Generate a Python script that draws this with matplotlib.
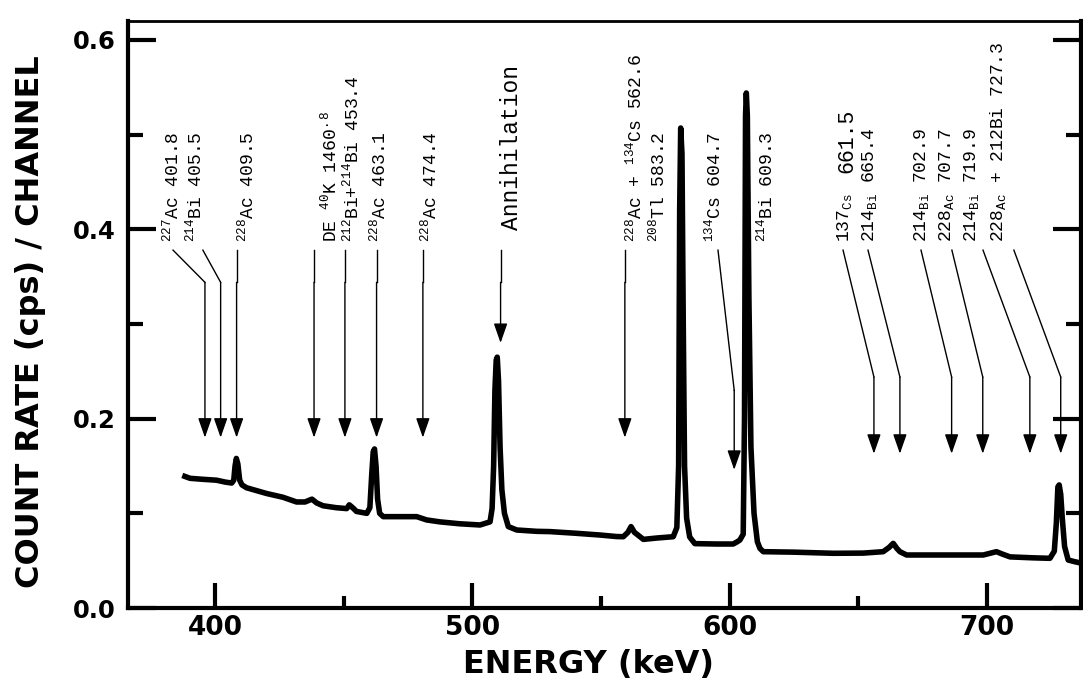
import matplotlib.pyplot as plt
from matplotlib.ticker import MultipleLocator

plt.rcParams["mathtext.fontset"] = "custom"
plt.rcParams["mathtext.rm"] = "Liberation Mono"
plt.rcParams["mathtext.it"] = "Liberation Mono"
plt.rcParams["mathtext.bf"] = "Liberation Mono:bold"

# Spectrum (keV, cps per channel).
energy = [
    388.3, 390.3, 395.0, 400.6, 404.0, 406.5, 407.3, 407.8, 408.3, 408.9,
    409.6, 410.5, 412.3, 420.0, 426.4, 431.7, 435.0, 437.7, 439.5, 442.0,
    447.0, 451.2, 452.2, 453.5, 455.0, 459.0, 460.2, 460.9, 461.5, 462.0,
    462.6, 463.2, 464.0, 465.4, 472.0, 478.4, 482.3, 487.4, 495.0, 503.0,
    506.9, 507.7, 508.3, 508.8, 509.3, 509.7, 510.2, 510.8, 511.5, 512.5,
    514.0, 517.3, 525.0, 530.2, 540.0, 549.6, 556.0, 558.7, 560.5, 561.7,
    563.0, 566.5, 572.0, 578.1, 579.5, 580.2, 580.6, 581.0, 581.5, 582.0,
    582.5, 583.3, 584.5, 586.5, 595.0, 601.4, 603.0, 604.0, 605.3, 605.8,
    606.2, 606.5, 606.9, 607.5, 608.3, 609.5, 610.8, 611.8, 613.1, 625.0,
    640.3, 652.0, 659.7, 662.0, 663.6, 665.0, 666.2, 668.8, 680.0, 698.6,
    701.5, 703.7, 706.0, 709.0, 718.0, 724.5, 726.2, 727.0, 727.6, 728.1,
    728.7, 729.3, 730.2, 731.6, 734.0, 737.4,
]
count_rate = [
    0.139, 0.137, 0.136, 0.135, 0.133, 0.132, 0.135, 0.150, 0.158, 0.152,
    0.135, 0.130, 0.127, 0.121, 0.117, 0.112, 0.112, 0.115, 0.111, 0.108,
    0.106, 0.105, 0.109, 0.106, 0.102, 0.100, 0.106, 0.140, 0.165, 0.168,
    0.150, 0.115, 0.100, 0.0965, 0.0965, 0.0965, 0.093, 0.091, 0.089, 0.0877,
    0.091, 0.105, 0.150, 0.230, 0.262, 0.265, 0.240, 0.170, 0.125, 0.100,
    0.086, 0.0824, 0.081, 0.0807, 0.079, 0.0771, 0.0755, 0.0753, 0.080, 0.086,
    0.080, 0.0725, 0.074, 0.0753, 0.085, 0.150, 0.420, 0.507, 0.480, 0.300,
    0.150, 0.095, 0.075, 0.068, 0.0676, 0.0676, 0.070, 0.0718, 0.078, 0.200,
    0.520, 0.544, 0.520, 0.330, 0.170, 0.100, 0.070, 0.063, 0.0595, 0.059,
    0.0578, 0.058, 0.0595, 0.064, 0.0683, 0.063, 0.0595, 0.056, 0.056, 0.056,
    0.058, 0.0595, 0.057, 0.054, 0.053, 0.0525, 0.060, 0.090, 0.128, 0.130,
    0.120, 0.095, 0.065, 0.0507, 0.049, 0.047,
]

# Line identifications.
labels = [
    "$^{227}$Ac 401.8",
    "$^{214}$Bi 405.5",
    "$^{228}$Ac 409.5",
    "DE $^{40}$K 1460$^{.8}$",
    "$^{212}$Bi+$^{214}$Bi 453.4",
    "$^{228}$Ac 463.1",
    "$^{228}$Ac 474.4",
    "Annihilation",
    "$^{228}$Ac + $^{134}$Cs 562.6",
    "$^{208}$Tl 583.2",
    "$^{134}$Cs 604.7",
    "$^{214}$Bi 609.3",
    "137$_{\\mathrm{Cs}}$",
    "214$_{\\mathrm{Bi}}$ 665.4",
    "214$_{\\mathrm{Bi}}$ 702.9",
    "228$_{\\mathrm{Ac}}$ 707.7",
    "214$_{\\mathrm{Bi}}$ 719.9",
    "228$_{\\mathrm{Ac}}$ + 212Bi 727.3",
]
label_keV = [383.3, 392.2, 412.4, 444.7, 453.2, 463.7, 483.6, 515.1, 563.2,
             572.2, 593.9, 614.1, 644.8, 654.2, 674.4, 684.5, 694.2, 704.3]

# Arrows: leader start, vertical shaft position, bend height, tip height.
arrow_start = [383.7, 395.3, 408.4, 438.5, 450.5, 462.8, 480.8, 511.0, 559.3,
               595.5, 644.1, 653.8, 674.4, 686.4, 698.5, 710.5]
arrow_keV = [396.1, 402.2, 408.4, 438.5, 450.5, 462.8, 480.8, 511.0, 559.3,
             601.8, 656.1, 666.2, 686.3, 698.4, 716.7, 728.7]
arrow_bend = [0.344, 0.344, 0.344, 0.344, 0.344, 0.344, 0.344, 0.344, 0.344,
              0.230, 0.244, 0.244, 0.244, 0.244, 0.244, 0.244]
arrow_tip = [0.180, 0.180, 0.180, 0.180, 0.180, 0.180, 0.180, 0.280, 0.180,
             0.146, 0.163, 0.163, 0.163, 0.163, 0.163, 0.163]

fig = plt.figure(figsize=(10.83, 6.94), dpi=100)
ax = fig.add_axes([0.1182, 0.1239, 0.8800, 0.8458])

ax.plot(energy, count_rate, color="black", lw=4, solid_joinstyle="round")

top = 0.378
for x0, x1, yb, yt in zip(arrow_start, arrow_keV, arrow_bend, arrow_tip):
    ax.plot([x0, x1], [top, yb], color="black", lw=1)
    ax.annotate("", xy=(x1, yt), xytext=(x1, yb),
                arrowprops=dict(arrowstyle="-|>,head_length=1.2,head_width=0.42",
                                color="black", lw=1, shrinkA=0, shrinkB=0))

for text, x in zip(labels, label_keV):
    if text == "Annihilation":
        ax.text(x, 0.399, text, rotation=90, ha="center", va="bottom",
                family="Liberation Mono", fontsize=16.5)
    else:
        ax.text(x, 0.387, text, rotation=90, ha="center", va="bottom",
                family="Liberation Mono", fontsize=13)
ax.text(645.6, 0.459, "661.5", rotation=90, ha="center", va="bottom",
        family="Liberation Mono", fontsize=15.5)

ax.set_xlim(366.2, 736.6)
ax.set_ylim(0, 0.62)

ax.xaxis.set_major_locator(MultipleLocator(100))
ax.xaxis.set_minor_locator(MultipleLocator(50))
ax.yaxis.set_major_locator(MultipleLocator(0.2))
ax.yaxis.set_minor_locator(MultipleLocator(0.1))
ax.yaxis.set_major_formatter(lambda v, pos: "%.1f" % v)

ax.tick_params(which="both", direction="in", width=3, right=True)
ax.tick_params(which="major", axis="y", length=20, pad=9)
ax.tick_params(which="minor", axis="y", length=11)
ax.tick_params(which="major", axis="x", length=18, pad=5)
ax.tick_params(which="minor", axis="x", length=9)
for lab in ax.get_xticklabels():
    lab.set_fontsize(19)
    lab.set_fontweight("bold")
for lab in ax.get_yticklabels():
    lab.set_fontsize(17.5)
    lab.set_fontweight("bold")
for s in ax.spines.values():
    s.set_linewidth(3)
ax.spines["top"].set_linewidth(2)

fig.text(0.028, 0.536, "COUNT RATE (cps) / CHANNEL", rotation=90,
         ha="center", va="center", fontsize=23, fontweight="bold")
fig.text(0.543, 0.043, "ENERGY (keV)", ha="center", va="center",
         fontsize=23, fontweight="bold")

fig.savefig("out.png", dpi=100)
